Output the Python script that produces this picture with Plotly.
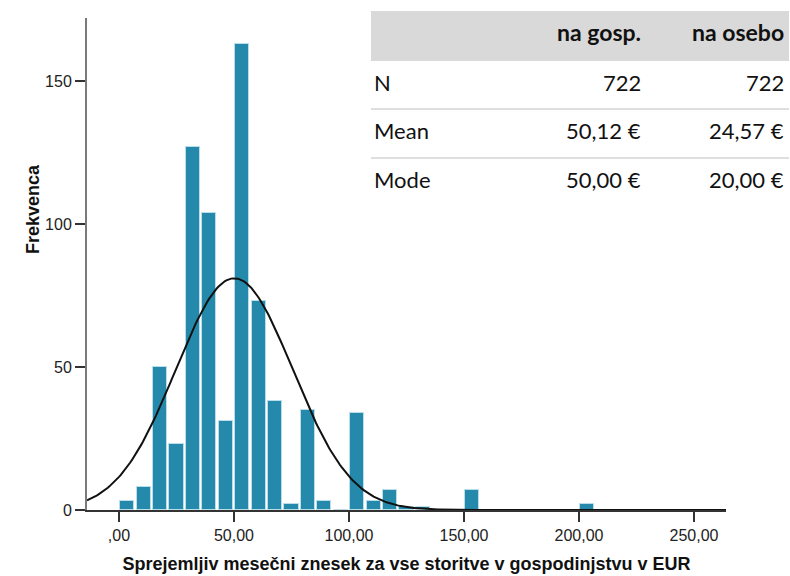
import numpy as np
import plotly.graph_objects as go

# Histogram of acceptable monthly amounts (EUR), SPSS-style binning
bin_width = 50 / 7
bin_index = list(range(29))
counts = [3, 8, 50, 23, 127, 104, 31, 163, 73, 38, 2, 35, 3, 0, 34, 3, 7, 1, 1,
          0, 0, 7, 0, 0, 0, 0, 0, 0, 2]

# Summary statistics shown in the table
stat_rows = ["N", "Mean", "Mode"]
col_headers = ["na gosp.", "na osebo"]
col_gosp = ["722", "50,12 €", "50,00 €"]
col_osebo = ["722", "24,57 €", "20,00 €"]

n_obs = 722
mean_val = 50.12
sd_val = 25.4

x_ticks = [0, 50, 100, 150, 200, 250]
x_ticklabels = [",00", "50,00", "100,00", "150,00", "200,00", "250,00"]
y_ticks = [0, 50, 100, 150]
y_ticklabels = ["0", "50", "100", "150"]

x_range = [-13.9, 263.9]
y_range = [0, 172]

bin_left = [i * bin_width for i in bin_index]
bin_centers = [b + bin_width / 2 for b in bin_left]

# Fitted normal curve, scaled to counts per bin
xc = np.linspace(x_range[0], x_range[1], 400)
yc = n_obs * bin_width / (sd_val * np.sqrt(2 * np.pi)) * np.exp(-0.5 * ((xc - mean_val) / sd_val) ** 2)

fig = go.Figure()
fig.add_trace(go.Bar(
    x=bin_centers, y=counts, width=bin_width * 0.86,
    marker=dict(color="#2489ab", line=dict(color="#b9dde9", width=1)),
    showlegend=False, hoverinfo="x+y",
))
fig.add_trace(go.Scatter(
    x=xc, y=yc, mode="lines", line=dict(color="#111111", width=2),
    showlegend=False, hoverinfo="skip",
))

# Plot area in pixels
L, R, T, B = 87, 726, 18, 510
W, H = 790, 576


def px(x):
    return (x - L) / (R - L)


def py(y):
    return (B - y) / (B - T)


table_font = "Lato, 'Open Sans', sans-serif"
shapes = [
    dict(type="rect", xref="paper", yref="paper", x0=px(371), x1=px(789), y0=py(61), y1=py(11),
         fillcolor="#d9d9d9", line=dict(width=0), layer="above"),
]
for sep in (109, 158):
    shapes.append(dict(type="line", xref="paper", yref="paper", x0=px(371), x1=px(789),
                       y0=py(sep), y1=py(sep), line=dict(color="#d4d4d4", width=1.5)))

annotations = []
for txt, xr in zip(col_headers, (643, 786)):
    annotations.append(dict(text="<b>%s</b>" % txt, xref="paper", yref="paper", x=px(xr), y=py(32),
                            xanchor="right", yanchor="middle", showarrow=False,
                            font=dict(family=table_font, size=23, color="#111111")))
row_y = [83, 131, 180]
for lab, a, b, yy in zip(stat_rows, col_gosp, col_osebo, row_y):
    annotations.append(dict(text=lab, xref="paper", yref="paper", x=px(372), y=py(yy),
                            xanchor="left", yanchor="middle", showarrow=False,
                            font=dict(family=table_font, size=22, color="#111111")))
    annotations.append(dict(text=a, xref="paper", yref="paper", x=px(643), y=py(yy),
                            xanchor="right", yanchor="middle", showarrow=False,
                            font=dict(family=table_font, size=22, color="#111111")))
    annotations.append(dict(text=b, xref="paper", yref="paper", x=px(786), y=py(yy),
                            xanchor="right", yanchor="middle", showarrow=False,
                            font=dict(family=table_font, size=22, color="#111111")))

axis_font = dict(family="Liberation Sans, Arial, sans-serif", size=16, color="#222222")
title_font = dict(family="Liberation Sans, Arial, sans-serif", size=18, color="#111111")

# Vertical axis title, placed beside the upper-middle of the axis
annotations.append(dict(text="<b>Frekvenca</b>", xref="paper", yref="paper", x=px(33), y=py(209),
                        xanchor="center", yanchor="middle", textangle=-90, showarrow=False,
                        font=title_font))

fig.update_layout(
    template="none",
    width=W, height=H,
    margin=dict(l=L, r=W - R, t=T, b=H - B, pad=0),
    paper_bgcolor="white", plot_bgcolor="white",
    bargap=0,
    shapes=shapes, annotations=annotations,
    xaxis=dict(
        automargin=False,
        range=x_range, tickvals=x_ticks, ticktext=x_ticklabels,
        showgrid=False, zeroline=False, showline=True, linecolor="#333333", linewidth=2,
        ticks="outside", ticklen=10, tickwidth=2, tickcolor="#333333",
        tickfont=axis_font,
        title=dict(text="<b>Sprejemljiv mesečni znesek za vse storitve v gospodinjstvu v EUR</b>",
                   font=title_font, standoff=14),
    ),
    yaxis=dict(
        automargin=False,
        range=y_range, tickvals=y_ticks, ticktext=y_ticklabels,
        showgrid=False, zeroline=False, showline=True, linecolor="#7a7a7a", linewidth=2,
        ticks="outside", ticklen=10, tickwidth=2, tickcolor="#333333",
        tickfont=axis_font,
    ),
)

fig.write_html("out.html")
